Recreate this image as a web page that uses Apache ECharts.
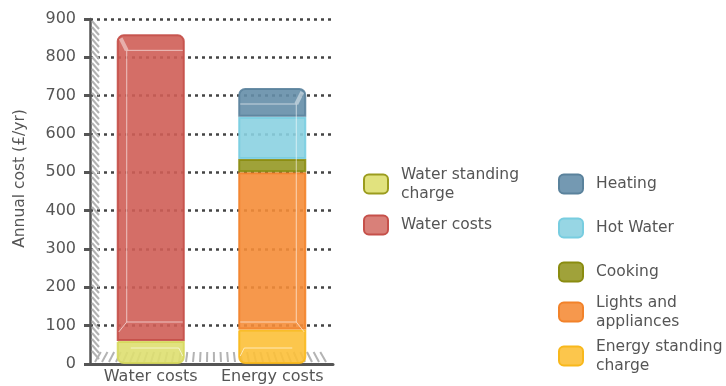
<!DOCTYPE html>
<html>
<head>
<meta charset="utf-8">
<script src="https://cdn.jsdelivr.net/npm/echarts@6/dist/echarts.min.js"></script>
<style>
  html, body { margin: 0; padding: 0; background: #ffffff; }
  #chart { width: 726px; height: 386px; }
</style>
</head>
<body>
<div id="chart"></div>
<script>
// Annual household costs, split into their components
const categories = ['Water costs', 'Energy costs'];

const waterStanding    = [60, null];
const waterUse         = [800, null];
const energyStanding   = [null, 90];
const lightsAppliances = [null, 410];
const cooking          = [null, 35];
const hotWater         = [null, 110];
const heating          = [null, 75];

const yMin = 0, yMax = 900, yStep = 100;

// Legend wording (with line breaks as laid out)
const legendLabels = {
  'Water standing charge': 'Water standing\ncharge',
  'Water costs': 'Water costs',
  'Heating': 'Heating',
  'Hot Water': 'Hot Water',
  'Cooking': 'Cooking',
  'Lights and appliances': 'Lights and\nappliances',
  'Energy standing charge': 'Energy standing\ncharge'
};

// Series styling: fill (slightly see-through), border, legend swatch
const styles = {
  'Water standing charge':  { fill: '#dedf70', border: '#d6d85c', swatch: '#e1e27e', swatchBorder: '#9b9c1e' },
  'Water costs':            { fill: '#cf5e56', border: '#c44e47', swatch: '#d98079', swatchBorder: '#c6504a' },
  'Energy standing charge': { fill: '#fcc038', border: '#f8b81c', swatch: '#fcc64c', swatchBorder: '#f8b81c' },
  'Lights and appliances':  { fill: '#f58d39', border: '#f2822a', swatch: '#f6984d', swatchBorder: '#f2822a' },
  'Cooking':                { fill: '#959824', border: '#8a8c10', swatch: '#a0a23a', swatchBorder: '#8a8c10' },
  'Hot Water':              { fill: '#8bd1e1', border: '#78cde0', swatch: '#97d6e4', swatchBorder: '#78cde0' },
  'Heating':                { fill: '#658ea9', border: '#5a829c', swatch: '#7499b2', swatchBorder: '#5a829c' }
};

const FONT = '"DejaVu Sans", Verdana, sans-serif';
const TEXT = '#555555';
const BAR_RATIO = 0.56;

const stackOrder = [
  ['Water standing charge', waterStanding, [0, 0, 6, 6]],
  ['Water costs', waterUse, [6, 6, 0, 0]],
  ['Energy standing charge', energyStanding, [0, 0, 6, 6]],
  ['Lights and appliances', lightsAppliances, 0],
  ['Cooking', cooking, 0],
  ['Hot Water', hotWater, 0],
  ['Heating', heating, [6, 6, 0, 0]]
];

const barSeries = stackOrder.map(([name, values, radius]) => ({
  name,
  type: 'bar',
  stack: 'cost',
  barWidth: (BAR_RATIO * 100) + '%',
  data: values,
  z: 2,
  itemStyle: {
    color: styles[name].fill,
    opacity: 0.9,
    borderColor: styles[name].border,
    borderWidth: 2,
    borderRadius: radius
  }
}));

// Stack totals per category for the glass-box guide lines
const totals = categories.map((_, i) =>
  stackOrder.reduce((s, row) => s + (row[1][i] || 0), 0));

// Hatched wall and floor along the axes
function renderFrame(params, api) {
  const cs = params.coordSys;
  const x0 = cs.x, y0 = cs.y, w = cs.width, h = cs.height;
  const yb = y0 + h;
  const cx = x0 + w / 2;
  const children = [];
  const st = { stroke: '#b3b3b3', lineWidth: 2 };
  for (let y = y0 + 2; y < yb - 12; y += 6) {
    children.push({ type: 'line', shape: { x1: x0 + 2, y1: y, x2: x0 + 9, y2: y + 8 }, style: st });
  }
  for (let x = x0 + 5; x < x0 + w - 1; x += 7) {
    const xt = x + (cx - x) * 0.05;
    children.push({ type: 'line', shape: { x1: x, y1: yb - 2, x2: xt, y2: yb - 12 }, style: st });
  }
  return { type: 'group', children };
}

// Faint inner edges that give each stack a glass-box look
function renderBox(params, api) {
  const idx = api.value(0);
  const total = api.value(1);
  const top = api.coord([idx, total]);
  const base = api.coord([idx, 0]);
  const band = api.size([1, 0])[0];
  const bw = band * BAR_RATIO;
  const L = top[0] - bw / 2, R = top[0] + bw / 2;
  const dir = idx === 0 ? 1 : -1;
  const yt = top[1], yb = base[1];
  const bl = dir > 0 ? L + 10 : L + 2;
  const br = dir > 0 ? R - 2 : R - 10;
  const bt = yt + 16;
  const bb = yb - 42;
  const innerX = dir > 0 ? bl : br;
  const frontX = dir > 0 ? L + 2 : R - 2;
  const thin = { stroke: 'rgba(255,255,255,0.6)', lineWidth: 1 };
  const thick = { stroke: 'rgba(255,255,255,0.45)', lineWidth: 4 };
  const ln = (x1, y1, x2, y2, s) => ({ type: 'line', shape: { x1, y1, x2, y2 }, style: s });
  return {
    type: 'group',
    children: [
      ln(bl, bt, br, bt, thin),
      ln(innerX, bt, innerX, bb, thin),
      ln(bl, bb, br, bb, thin),
      ln(innerX, bt, frontX + dir * 2, yt + 4, thick),
      ln(innerX, bb, frontX, bb + 10, thin),
      ln(bl + 4, yb - 16, br - 4, yb - 16, thin),
      ln(dir > 0 ? br - 4 : bl + 4, yb - 16, dir > 0 ? R - 2 : L + 2, yb - 8, thin)
    ]
  };
}

const legendOrder = [
  // name, left, swatch centre y
  ['Water standing charge', 363, 184],
  ['Water costs', 363, 224],
  ['Heating', 558, 183],
  ['Hot Water', 558, 227],
  ['Cooking', 558, 271],
  ['Lights and appliances', 558, 312],
  ['Energy standing charge', 558, 356]
];
const LINE_H = 19;
const legends = legendOrder.map(([name, left, cy]) => {
  const lines = legendLabels[name].split('\n').length;
  const hgt = Math.max(19, lines * LINE_H);
  return {
    left,
    top: cy - hgt / 2,
    padding: 0,
    orient: 'vertical',
    icon: 'roundRect',
    itemWidth: 24,
    itemHeight: 19,
    selectedMode: false,
    data: [{
      name,
      itemStyle: { color: styles[name].swatch, borderColor: styles[name].swatchBorder, borderWidth: 2, opacity: 1 }
    }],
    formatter: n => legendLabels[n],
    textStyle: {
      fontFamily: FONT, fontSize: 15.5, color: TEXT, lineHeight: LINE_H,
      padding: [0, 0, 0, 8]
    }
  };
});

const chart = echarts.init(document.getElementById('chart'), null, { renderer: 'canvas' });
chart.setOption({
  animation: false,
  backgroundColor: '#ffffff',
  grid: { left: 90, right: 393, top: 19, bottom: 22 },
  legend: legends,
  xAxis: {
    type: 'category',
    data: categories,
    axisLine: { lineStyle: { color: '#555', width: 3 } },
    axisTick: { length: 4, lineStyle: { color: '#555', width: 2 } },
    axisLabel: { interval: 0, fontFamily: FONT, fontSize: 16, color: TEXT, margin: 5 }
  },
  yAxis: {
    type: 'value',
    min: yMin, max: yMax, interval: yStep,
    name: 'Annual cost (£/yr)',
    nameLocation: 'middle',
    nameGap: 62,
    nameTextStyle: { fontFamily: FONT, fontSize: 15.5, color: TEXT, padding: [0, 0, 0, 26] },
    axisLine: { show: true, lineStyle: { color: '#555', width: 2.5 } },
    axisTick: { show: true, length: 6, lineStyle: { color: '#555', width: 3 } },
    axisLabel: { fontFamily: FONT, fontSize: 16, color: TEXT, margin: 14 },
    splitLine: { lineStyle: { color: '#444', width: 2.5, type: [3, 4] } }
  },
  series: [
    {
      type: 'custom',
      name: 'frame',
      renderItem: renderFrame,
      data: [[0, 0]],
      z: 1,
      clip: false,
      silent: true
    },
    ...barSeries,
    {
      type: 'custom',
      name: 'box',
      renderItem: renderBox,
      data: totals.map((t, i) => [i, t]),
      z: 3,
      clip: false,
      silent: true
    }
  ]
});
</script>
</body>
</html>
